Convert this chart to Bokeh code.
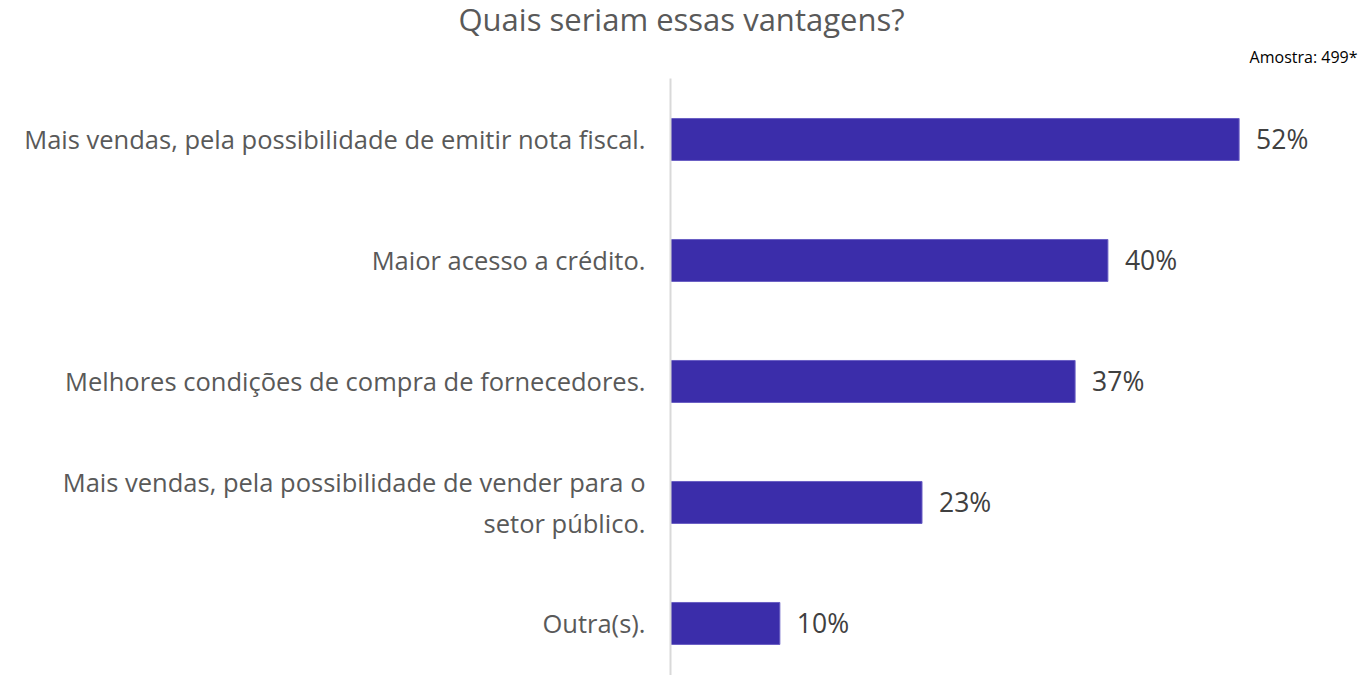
from bokeh.plotting import figure
from bokeh.models import Range1d, FixedTicker, Title, ColumnDataSource
from bokeh.core.properties import value
from bokeh.embed import file_html
from bokeh.resources import INLINE

categories = [
    "Mais vendas, pela possibilidade de emitir nota fiscal.",
    "Maior acesso a crédito.",
    "Melhores condições de compra de fornecedores.",
    "Mais vendas, pela possibilidade de vender para o\nsetor público.",
    "Outra(s).",
]
values = [52, 40, 37, 23, 10]
value_labels = ["52%", "40%", "37%", "23%", "10%"]
title_text = "Quais seriam essas vantagens?"
sample_text = "Amostra: 499*"

FONT = "Open Sans"
positions = list(range(len(categories)))

src = ColumnDataSource(dict(y=positions, v=values, lab=value_labels))

W, H = 1360, 675
p = figure(width=W, height=H, output_backend="svg", toolbar_location=None,
           x_range=Range1d(0, 63.1), y_range=Range1d(4.43, -0.504),
           min_border_left=670, min_border_right=0, min_border_top=78,
           min_border_bottom=0, tools="")
p.outline_line_color = None
p.xgrid.visible = False
p.ygrid.visible = False
p.xaxis.visible = False
p.background_fill_color = "white"
p.border_fill_color = "white"

p.hbar(y="y", right="v", left=0, height=0.347, source=src,
       fill_color="#3B2DAA", line_color="#6A5FC4", line_width=1)

p.text(x="v", y="y", text="lab", source=src, x_offset=17,
       text_baseline="middle", text_align="left",
       text_font=value(FONT), text_font_size="26.5px", text_color="#404040")

ax = p.yaxis[0]
ax.ticker = FixedTicker(ticks=positions)
ax.major_label_overrides = {i: c for i, c in enumerate(categories)}
ax.axis_line_color = "#D9D9D9"
ax.axis_line_width = 2
ax.major_tick_line_color = None
ax.minor_tick_line_color = None
ax.major_tick_out = 0
ax.major_tick_in = 0
ax.major_label_standoff = 25
ax.major_label_text_font = FONT
ax.major_label_text_font_size = "25.5px"
ax.major_label_text_color = "#595959"

p.title.text = title_text
p.title.align = "left"
p.title.offset = -212
p.title.standoff = -14
p.title.text_font = FONT
p.title.text_font_size = "31px"
p.title.text_font_style = "normal"
p.title.text_color = "#595959"

t2 = Title(text=sample_text, align="right", text_font=FONT, text_font_size="16px",
           text_font_style="normal", text_color="#000000", offset=3, standoff=22)
p.add_layout(t2, "above")

open("out.html", "w").write(file_html(p, INLINE))
